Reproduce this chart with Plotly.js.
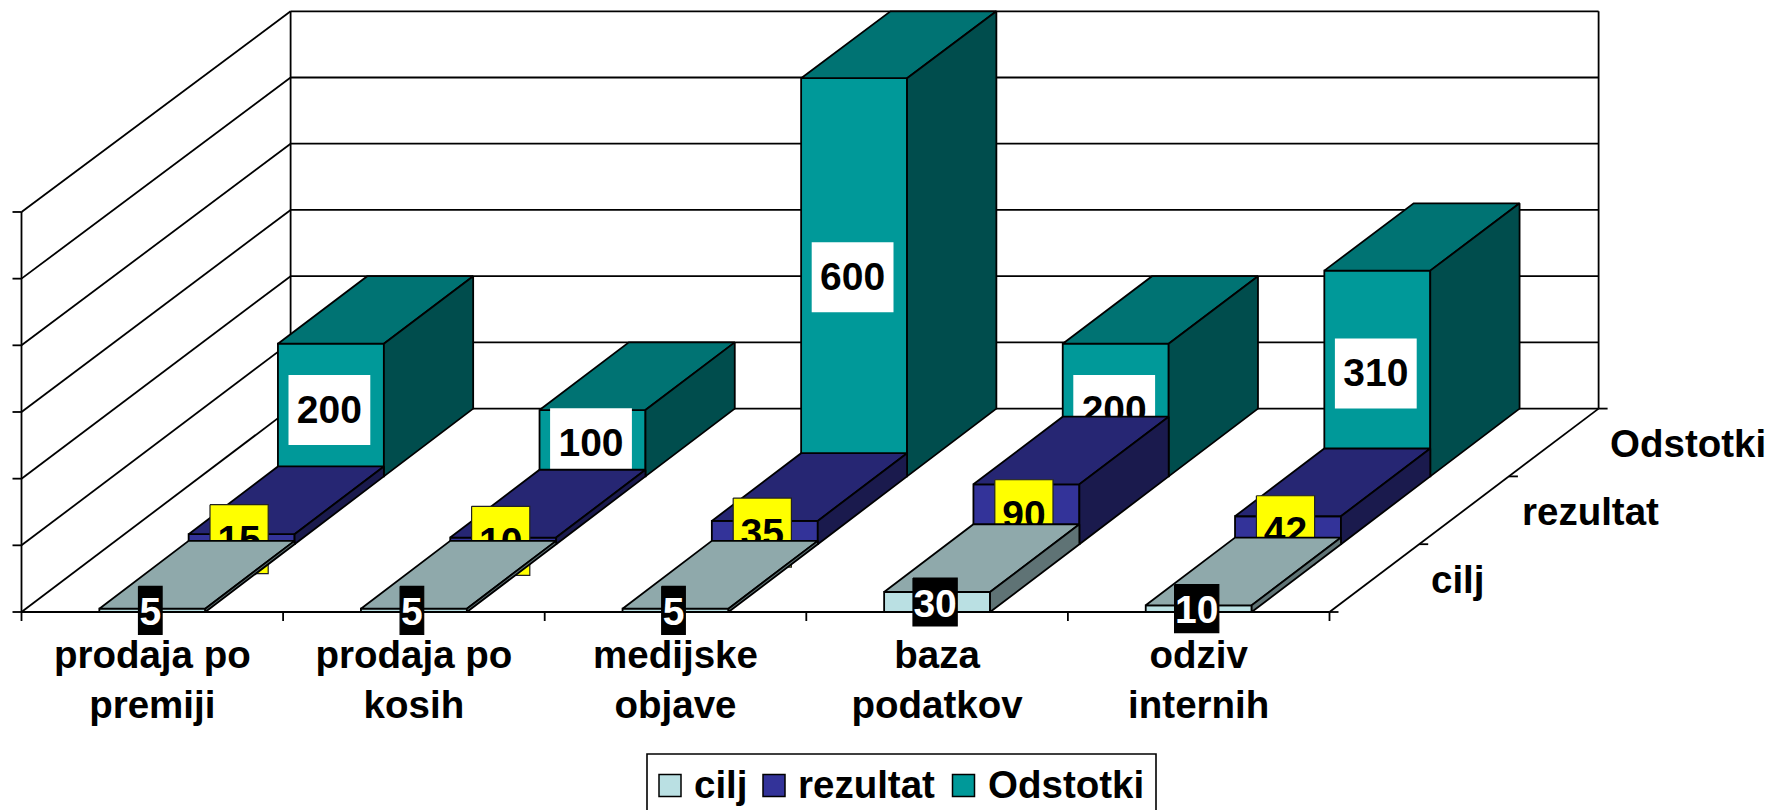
<!DOCTYPE html>
<html><head><meta charset="utf-8">
<script src="https://cdn.plot.ly/plotly-3.0.1.min.js"></script>
<style>html,body{margin:0;padding:0;background:#fff;overflow:hidden}#c{width:1770px;height:810px}</style>
</head><body><div id="c"></div>
<script>
// ---- data ----
const categories = ["prodaja po<br>premiji","prodaja po<br>kosih","medijske<br>objave","baza<br>podatkov","odziv<br>internih"];
const seriesNames = ["cilj","rezultat","Odstotki"];
const cilj = [5,5,5,30,10];
const rezultat = [15,10,35,90,42];
const odstotki = [200,100,600,200,310];
const valueTicks = [0,100,200,300,400,500,600];

// ---- style ----
const FONT = "Liberation Sans, Arial, sans-serif";
const FS = 38.5, LFS = 39;
const styles = [
 {front:"#BAE0E3",top:"#8FA9AB",side:"#5F7375",box:"#000000",boxLine:"#000000",txt:"#FFFFFF",padX:3,boxH:48,shift:-2,textDy:5},
 {front:"#333399",top:"#262673",side:"#1A1A4D",box:"#FFFF00",boxLine:"#222222",txt:"#000000",padX:17,boxH:69,shift:-2.5,textDy:4},
 {front:"#009999",top:"#007373",side:"#004D4D",box:"#FFFFFF",boxLine:"rgba(0,0,0,0)",txt:"#000000",padX:20,boxH:70,shift:-1.5,textDy:3}
];
const values = [cilj,rezultat,odstotki];

// oblique projection: category position c, depth position s, value v -> plot coordinates
const X0=21.5, Y0=612, CW=261.6, DX=89.7, DXBAR=89.3, DY=67.8, BAR=0.405;
function px(c,s){return X0+CW*c+DX*s;}
function bpx(c,s){return X0+CW*c+DXBAR*s;}
function py(s,v){return Y0-DY*s-(0.6667-0.0015*s)*v;}
function poly(points){ // closed polygon, null separated
  const x=[],y=[];
  points.forEach(p=>{x.push(bpx(p[0],p[1]));y.push(py(p[1],p[2]));});
  x.push(x[0]);y.push(y[0]);x.push(null);y.push(null);
  return {x,y};
}
function merge(list){return {x:[].concat(...list.map(o=>o.x)),y:[].concat(...list.map(o=>o.y))};}

const traces=[];
function lineTrace(x,y,w){traces.push({type:"scatter",mode:"lines",x,y,line:{color:"#000",width:w||1.5},showlegend:false,hoverinfo:"skip"});}

// walls and floor
const wx=[],wy=[];
function seg(a,b){wx.push(a[0],b[0],null);wy.push(a[1],b[1],null);}
const nC=categories.length,nS=seriesNames.length,vMax=valueTicks[valueTicks.length-1];
valueTicks.forEach(v=>{
  seg([px(0,0)-9,py(0,v)],[px(0,0),py(0,v)]);
  seg([px(0,0),py(0,v)],[px(0,nS),py(nS,v)]);
  seg([px(0,nS),py(nS,v)],[px(nC,nS),py(nS,v)]);
});
seg([px(0,0),py(0,0)],[px(0,0),py(0,vMax)]);
seg([px(0,nS),py(nS,0)],[px(0,nS),py(nS,vMax)]);
seg([px(nC,nS),py(nS,0)],[px(nC,nS),py(nS,vMax)]);
seg([px(0,0),py(0,0)],[px(nC,0),py(0,0)]);
seg([px(nC,0),py(0,0)],[px(nC,nS),py(nS,0)]);
for(let c=0;c<=nC;c++){seg([px(c,0),py(0,0)],[px(c,0),py(0,0)+9]);}
for(let s=0;s<=nS;s++){seg([px(nC,s),py(s,0)],[px(nC,s)+9,py(s,0)]);}
lineTrace(wx,wy,1.8);

// bars back to front, every series with its labels so nearer series cover them
for(let s=nS-1;s>=0;s--){
  const st=styles[s],vals=values[s];
  const fr=[],tp=[],sd=[],bx=[],tx=[],ty=[],tt=[];
  vals.forEach((v,i)=>{
    const c0=i+0.5-BAR/2,c1=i+0.5+BAR/2,s1=s+1;
    fr.push(poly([[c0,s,0],[c1,s,0],[c1,s,v],[c0,s,v]]));
    tp.push(poly([[c0,s,v],[c1,s,v],[c1,s1,v],[c0,s1,v]]));
    sd.push(poly([[c1,s,0],[c1,s1,0],[c1,s1,v],[c1,s,v]]));
    const label=String(v);
    const cx=bpx(i+0.5,s)+st.shift, cy=py(s,v/2);
    const w=label.length*20.6+st.padX, h=st.boxH;
    bx.push({x:[cx-w/2,cx+w/2,cx+w/2,cx-w/2,cx-w/2,null],y:[cy-h/2,cy-h/2,cy+h/2,cy+h/2,cy-h/2,null]});
    tx.push(cx);ty.push(cy+st.textDy);tt.push(label);
  });
  [[fr,st.front,"front"],[tp,st.top,"top"],[sd,st.side,"side"]].forEach(f=>{
    const m=merge(f[0]);
    traces.push({type:"scatter",mode:"lines",name:seriesNames[s]+" "+f[2],x:m.x,y:m.y,fill:"toself",fillcolor:f[1],
      line:{color:"#000",width:1.8},showlegend:false,hoverinfo:"skip"});
  });
  const mb=merge(bx);
  traces.push({type:"scatter",mode:"lines",name:seriesNames[s]+" label box",x:mb.x,y:mb.y,fill:"toself",fillcolor:st.box,
    line:{color:st.boxLine,width:1.2},showlegend:false,hoverinfo:"skip"});
  traces.push({type:"scatter",mode:"text",name:seriesNames[s],x:tx,y:ty,text:tt,textposition:"middle center",
    textfont:{family:FONT,size:LFS,color:st.txt,weight:700},showlegend:false,hoverinfo:"skip"});
}

// legend drawn in place (square swatches and a box clipped by the page edge)
const legendSwatchX=[670,774,963.5], legendTextX=[693,797,987], legendY=785.5;
seriesNames.forEach((n,i)=>{
  traces.push({type:"scatter",mode:"markers",name:n+" legend",x:[legendSwatchX[i]],y:[legendY],
    marker:{symbol:"square",size:22,color:styles[i].front,line:{color:"#000",width:1.5}},showlegend:false,hoverinfo:"skip"});
});
const annotations=seriesNames.map((n,i)=>({x:legendTextX[i],y:legendY-1,xref:"x",yref:"y",text:"<b>"+n+"</b>",showarrow:false,
  xanchor:"left",yanchor:"middle",xshift:-1,font:{family:FONT,size:FS,color:"#000"}}));
// depth axis labels
const depthLabelX=[1458,1590,1688], depthLabelY=[579,511,443];
seriesNames.forEach((n,i)=>annotations.push({x:depthLabelX[i],y:depthLabelY[i],xref:"x",yref:"y",text:"<b>"+n+"</b>",showarrow:false,
  xanchor:"center",yanchor:"middle",font:{family:FONT,size:FS,color:"#000"}}));

const layout={
  width:1770,height:810,margin:{l:0,r:0,t:0,b:0},paper_bgcolor:"#fff",plot_bgcolor:"#fff",showlegend:false,hovermode:false,
  xaxis:{range:[0,1770],anchor:"free",position:1-Y0/810,tickmode:"array",
    tickvals:categories.map((c,i)=>px(i+0.5,0)),ticktext:categories.map(c=>"<b>"+c.replace("<br>","</b><br><b>")+"</b>"),
    ticks:"",showgrid:false,zeroline:false,showline:false,ticklabelstandoff:16,
    tickfont:{family:FONT,size:FS,color:"#000"},tickangle:0,fixedrange:true},
  yaxis:{range:[810,0],visible:false,fixedrange:true},
  shapes:[{type:"rect",xref:"x",yref:"y",x0:647,x1:1156,y0:754,y1:815,line:{color:"#000",width:1.6},fillcolor:"rgba(0,0,0,0)"}],
  annotations
};
Plotly.newPlot("c",traces,layout,{displayModeBar:false,staticPlot:true});
</script></body></html>
